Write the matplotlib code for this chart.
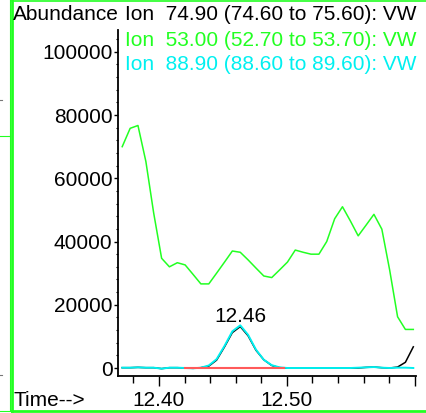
import matplotlib
matplotlib.use("Agg")
import matplotlib.pyplot as plt
from matplotlib.lines import Line2D
from matplotlib.ticker import FixedLocator, MultipleLocator, AutoMinorLocator

plt.rcParams['font.family'] = ['Liberation Sans', 'DejaVu Sans']

# scan times (min)
times = [12.3713, 12.3775, 12.3836, 12.3898, 12.3959, 12.4021, 12.4082, 12.4144,
         12.4205, 12.4267, 12.4328, 12.4390, 12.4451, 12.4513, 12.4574, 12.4636,
         12.4697, 12.4759, 12.4820, 12.4882, 12.4943, 12.5005, 12.5066, 12.5128,
         12.5189, 12.5251, 12.5312, 12.5374, 12.5435, 12.5497, 12.5558, 12.5620,
         12.5681, 12.5743, 12.5804, 12.5866, 12.5927, 12.5989]

# ion 74.90 (black)
ion_749 = [100, 100, 200, 100, 100, -200, 100, 100,
           0, -100, 100, 600, 2500, 6700, 11200, 13100,
           10200, 5600, 2600, 800, 100, 0, 0, 0,
           0, 0, 0, 0, 0, 0, 0, 200,
           300, 100, 0, 300, 1800, 6700]

# ion 53.00 (green)
ion_530 = [70000, 75800, 76700, 65300, 49000, 34700, 32000, 33300,
           32600, 29600, 26600, 26600, 30000, 33500, 37000, 36600,
           34200, 31600, 29100, 28600, 31000, 33500, 37300, 36600,
           36000, 36000, 40000, 47200, 51000, 46500, 41800, 45200,
           48600, 43900, 31000, 16200, 12200, 12200]

# ion 88.90 (cyan)
ion_889 = [100, 100, 200, 100, 100, -200, 100, 100,
           0, -100, 100, 800, 2800, 7000, 11600, 13500,
           10500, 5800, 2600, 900, 200, 0, 0, 0,
           0, 0, 0, 0, 0, 0, 100, 200,
           300, 100, 0, 100, 100, 0]

# integration baseline under the peak
base_t = [12.4204, 12.4975]
base_y = [0, 0]

apex = 15
xticks = [12.40, 12.50, 12.60]
xlabels = ['12.40', '12.50', '']
yticks = [0, 20000, 40000, 60000, 80000, 100000]

FS = 15
W, H = 426, 413
fig = plt.figure(figsize=(W / 100, H / 100), dpi=100)
ax = fig.add_axes([118 / W, 1 - 376 / H, 298 / W, 346 / H])

ax.plot(times, ion_530, color='#22ff22', lw=1.1)
ax.plot(times, ion_749, color='black', lw=1.1)
ax.plot(times, ion_889, color='#00f0f0', lw=1.4)
ax.plot(base_t, base_y, color='#ff5a5a', lw=1.5)

ax.annotate(f"{times[apex]:.2f}", (times[apex], ion_749[apex]),
            xytext=(0, 3), textcoords='offset points',
            ha='center', va='baseline', fontsize=FS)

ax.set_xlim(12.368, 12.601)
ax.set_ylim(-2530, 106900)

ax.xaxis.set_major_locator(FixedLocator(xticks))
ax.set_xticklabels(xlabels)
ax.xaxis.set_minor_locator(MultipleLocator(0.02))
ax.set_yticks(yticks)
ax.set_yticklabels([str(v) for v in yticks])
ax.yaxis.set_minor_locator(AutoMinorLocator(5))

ax.tick_params(axis='x', which='major', direction='out', length=7, width=1,
               labelsize=FS, pad=4)
ax.tick_params(axis='x', which='minor', direction='out', length=5, width=1)
ax.tick_params(axis='y', which='major', direction='out', length=3, width=1,
               labelsize=FS, pad=1)
ax.tick_params(axis='y', which='minor', direction='out', length=1.5, width=0.8)

for s in ['top', 'right']:
    ax.spines[s].set_visible(False)
for s in ['left', 'bottom']:
    ax.spines[s].set_linewidth(1.3)


def fx(px):
    return px / W


def fy(py):
    return 1 - py / H


# header texts
fig.text(fx(13), fy(15), "Abundance", fontsize=FS, va='center', ha='left')
fig.text(fx(125), fy(15), "Ion  74.90 (74.60 to 75.60): VW",
         fontsize=FS, va='center', ha='left', color='black')
fig.text(fx(125), fy(41), "Ion  53.00 (52.70 to 53.70): VW",
         fontsize=FS, va='center', ha='left', color='#22ff22')
fig.text(fx(125), fy(64), "Ion  88.90 (88.60 to 89.60): VW",
         fontsize=FS, va='center', ha='left', color='#00f0f0')
fig.text(fx(13), fy(400), "Time-->", fontsize=FS, va='center', ha='left')

# green window frame
frame = '#22ff22'
for xs, ys, lw in [([12, 12], [0, 411], 2.0),
                   ([12, 426], [411, 411], 2.0),
                   ([12, 426], [1, 1], 1.2),
                   ([10, 10], [0, 411], 0.8),
                   ([0, 10], [136, 136], 0.8),
                   ([0, 10], [411, 411], 0.8)]:
    fig.add_artist(Line2D([fx(x) for x in xs], [fy(y) for y in ys],
                          color=frame, lw=lw))
for py in [100, 375]:
    fig.add_artist(Line2D([fx(0), fx(1.5)], [fy(py), fy(py)],
                          color='#777777', lw=0.8))

fig.savefig('out.png', dpi=100)
